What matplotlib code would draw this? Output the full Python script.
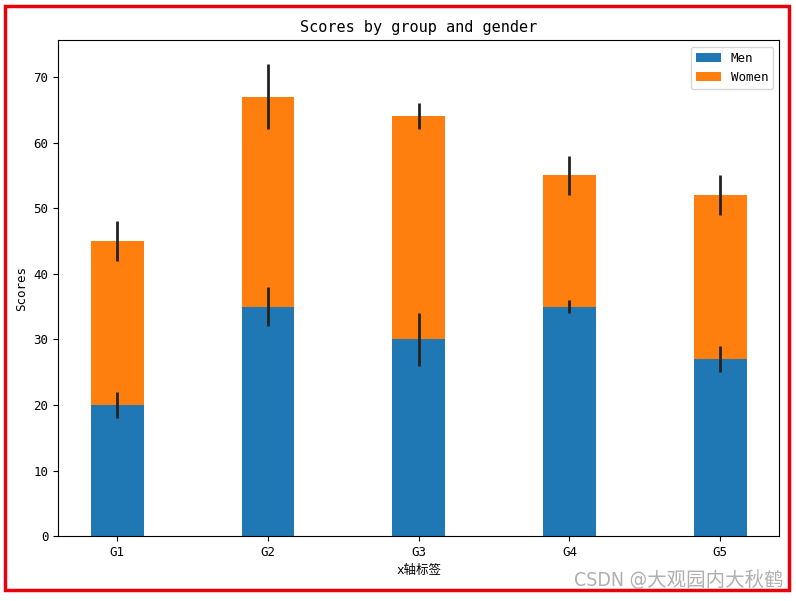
import matplotlib.pyplot as plt
from matplotlib.patches import Rectangle

plt.rcParams['font.family'] = ['DejaVu Sans Mono', 'Noto Sans CJK SC']
plt.rcParams['font.stretch'] = 'condensed'

labels = ['G1', 'G2', 'G3', 'G4', 'G5']
men_means = [20, 35, 30, 35, 27]
women_means = [25, 32, 34, 20, 25]
men_std = [2, 3, 4, 1, 2]
women_std = [3, 5, 2, 3, 3]
width = 0.35

fig = plt.figure(figsize=(7.96, 6.01), dpi=100)
ax = fig.add_axes([0.073, 0.108, 0.906, 0.825])

err = dict(ecolor='#222222', elinewidth=2)
ax.bar(labels, men_means, width, yerr=men_std, label='Men', color='#1f77b4',
       error_kw=err)
ax.bar(labels, women_means, width, yerr=women_std, bottom=men_means,
       label='Women', color='#ff7f0e', error_kw=err)

ax.set_ylabel('Scores', fontsize=9)
ax.set_xlabel('x轴标签', fontsize=9)
ax.set_title('Scores by group and gender', fontsize=11)
ax.tick_params(labelsize=9)
ax.legend(fontsize=9)

# red frame round the screenshot
fig.patches.append(Rectangle((0.006, 0.018), 0.985, 0.972, transform=fig.transFigure,
                             fill=False, edgecolor='#e8000b', linewidth=2.5))
fig.text(0.985, 0.018, 'CSDN @大观园内大秋鹤', ha='right', va='bottom',
         fontsize=14, color='#b0b0b0', family=['DejaVu Sans', 'Noto Sans CJK SC'])

fig.savefig('out.png', dpi=100)
